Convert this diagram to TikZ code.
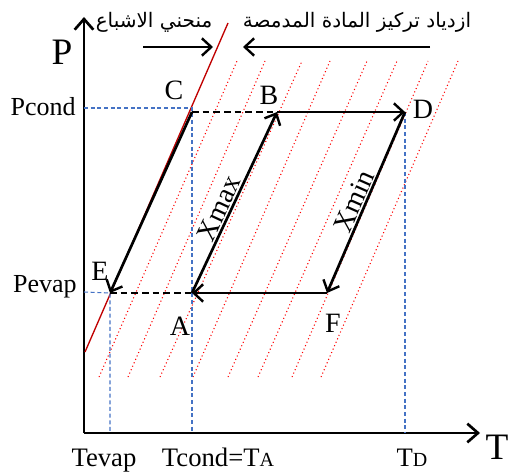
\documentclass[tikz,border=0pt]{standalone}
\usepackage{fontspec}
\setmainfont{Liberation Serif}
\newfontfamily\arabicfont[Script=Arabic]{DejaVu Sans}
\TeXXeTstate=1
\usetikzlibrary{arrows.meta}
\definecolor{guideblue}{RGB}{68,114,196}
\definecolor{satred}{RGB}{192,0,0}
\newcommand{\lowcap}[1]{{\fontsize{15}{17}\selectfont #1}}
\begin{document}
\begin{tikzpicture}[x=0.75pt, y=-0.75pt,
  every node/.style={inner sep=0pt, font=\fontsize{21}{23}\selectfont},
  axis/.style={line width=2.2pt, -{Straight Barb[length=8pt,width=14pt,line width=2pt]}},
  cycleline/.style={line width=2pt, -{Straight Barb[length=7pt,width=13pt,line width=1.8pt]}},
  cycledash/.style={line width=2pt, dash pattern=on 5pt off 3pt},
  guide/.style={guideblue, line width=0.8pt, dash pattern=on 3pt off 2pt},
  isostere/.style={red, line width=0.8pt, dotted},
  levellabel/.style={anchor=base east, font=\fontsize{19.5}{22}\selectfont},
  templabel/.style={anchor=base, font=\fontsize{20}{22}\selectfont},
  arabic/.style={font=\arabicfont\fontsize{15}{18}\selectfont}]
  \useasboundingbox (0,0) rectangle (509,474);
  % Axes
  \coordinate (O) at (84,433);
  \coordinate (Ptop) at (84,17);
  \coordinate (Tend) at (480,433);
  \draw[axis] (O) -- (Ptop);
  \draw[axis] (O) -- (Tend);
  \node (Plab) at (62,52) {\fontsize{28}{30}\selectfont P};
  \node (Tlab) at (497,447) {\fontsize{28}{30}\selectfont T};
  % Cycle points
  \coordinate (C) at (192,112);
  \coordinate (B) at (277,112);
  \coordinate (D) at (405,112);
  \coordinate (E) at (110,293);
  \coordinate (A) at (192,293);
  \coordinate (F) at (327,293);
  % Isosteres (constant concentration)
  \foreach \xb/\xt in {99/237, 128/265, 160/302, 193/330, 228/367, 258/397, 292/428, 321/458}
    \draw[isostere] (\xb,377) -- (\xt,61);
  % Saturation curve
  \coordinate (sat1) at (85,352);
  \coordinate (sat2) at (228,23);
  \draw[satred, line width=1pt] (sat1) -- (sat2);
  % Guide lines to the axes
  \coordinate (Pc) at (84,108);
  \coordinate (Pe) at (84,292);
  \coordinate (Tc) at (192,433);
  \coordinate (Te) at (110,433);
  \coordinate (Td) at (405,433);
  \draw[guide] (Pc) -- (192,108) -- (Tc);
  \draw[guide] (Pe) -- (E) -- (Te);
  \draw[guide] (D) -- (Td);
  % Cycle
  \draw[cycledash] (C) -- (B);
  \draw[cycledash] (E) -- (A);
  \draw[cycleline] (B) -- (D);
  \draw[cycleline] (D) -- (F);
  \draw[cycleline] (F) -- (A);
  \draw[cycleline] (A) -- (B);
  \draw[cycleline] (C) -- (E);
  % Point labels
  \node[anchor=base] (Clab) at (174,100) {C};
  \node[anchor=base] (Blab) at (269,105) {B};
  \node[anchor=base] (Dlab) at (423,118) {D};
  \node[anchor=base] (Elab) at (100,280) {E};
  \node[anchor=base] (Alab) at (180,335) {A};
  \node[anchor=base] (Flab) at (333,332) {F};
  \node[rotate=65, anchor=base] (Xmax) at (227,212) {Xmax};
  \node[rotate=66, anchor=base] (Xmin) at (362,205) {Xmin};
  % Axis labels
  \node[levellabel] (Pcond) at (76,115) {Pcond};
  \node[levellabel] (Pevap) at (77,292) {Pevap};
  \node[templabel] (Tevap) at (104,466) {Tevap};
  \node[templabel] (Tcond) at (218,466) {Tcond=T\lowcap{A}};
  \node[templabel] (TD) at (412,466) {T\lowcap{D}};
  % Top annotations
  \node[arabic] (satname) at (154,22) {\beginR منحني الاشباع\endR};
  \node[arabic] (concname) at (357,22) {\beginR ازدياد تركيز المادة المدمصة\endR};
  \coordinate (r1) at (143,47);
  \coordinate (r2) at (213,47);
  \coordinate (l1) at (430,47);
  \coordinate (l2) at (243,47);
  \draw[cycleline] (r1) -- (r2);
  \draw[cycleline] (l1) -- (l2);
\end{tikzpicture}
\end{document}
